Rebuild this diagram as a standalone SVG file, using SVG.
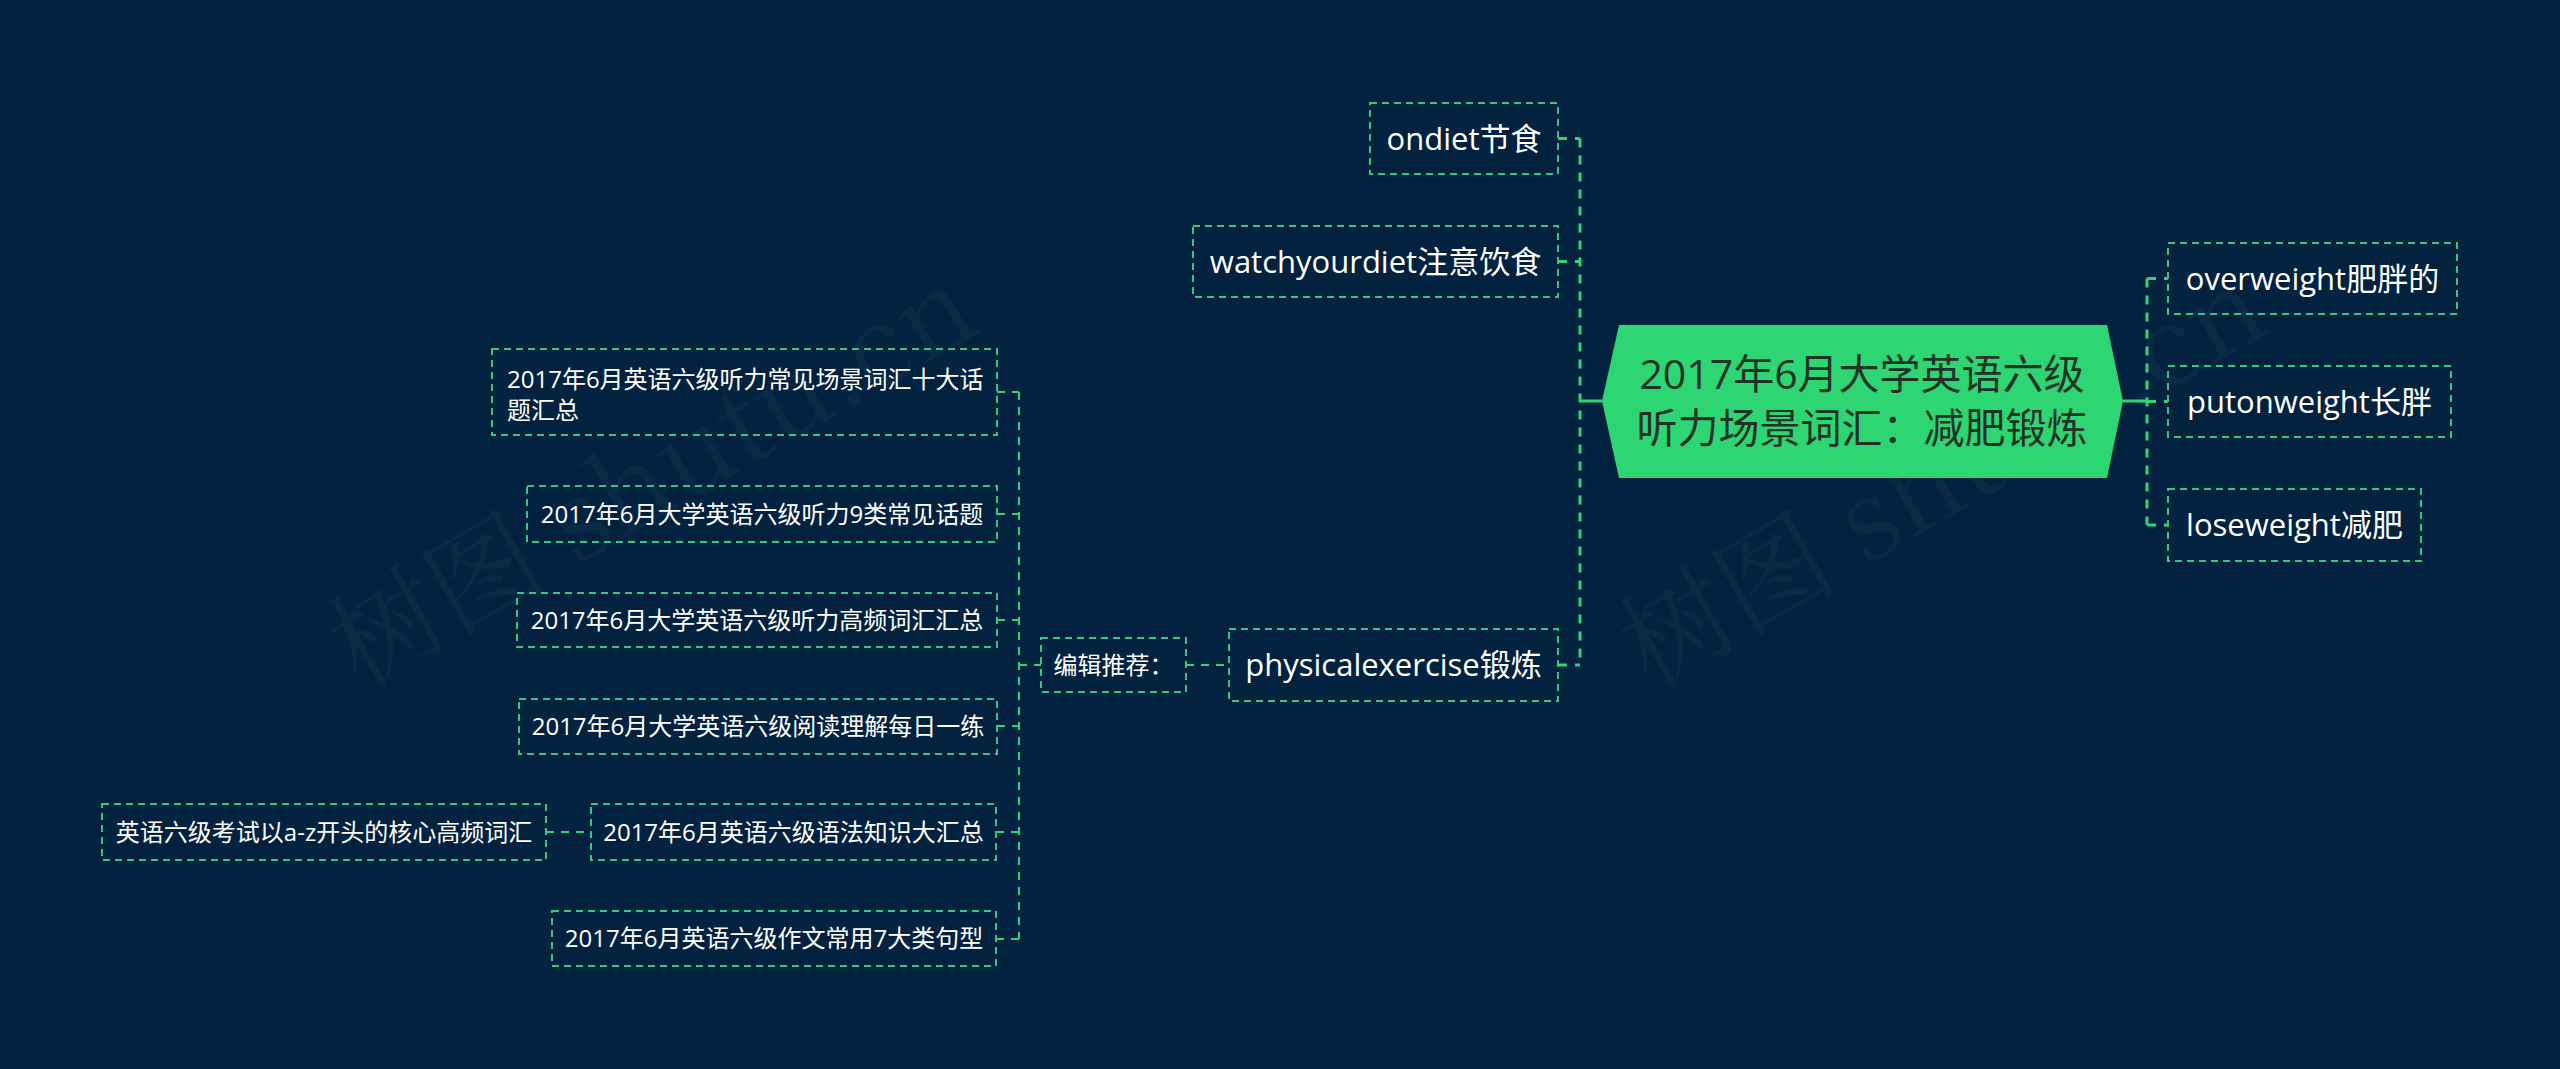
<svg xmlns="http://www.w3.org/2000/svg" width="2560" height="1069" viewBox="0 0 2560 1069">
<style>
.bg{fill:#02223f}
.box{fill:none;stroke:#34c77e;stroke-width:2;stroke-dasharray:7 5}
.t{font-family:"Open Sans","Noto Sans CJK SC",sans-serif;fill:#ffffff}
.t31{font-size:31px;text-anchor:middle}
.t24{font-size:24px;text-anchor:middle}
.tl{font-size:24px}
.ct{font-family:"Open Sans","Noto Sans CJK SC",sans-serif;font-size:41px;fill:#1f3329;text-anchor:middle}
.c1{fill:none;stroke:#2ed573;stroke-width:3;stroke-dasharray:9 8}
.c2{fill:none;stroke:#2ed573;stroke-width:2;stroke-dasharray:8 7}
.solid{fill:none;stroke:#2ed573;stroke-width:3}
.wm{font-family:"Noto Serif CJK SC","Liberation Serif","Noto Sans CJK SC",serif;font-size:110px;fill:#ffffff;fill-opacity:0.035}
</style>
<rect class="bg" x="0" y="0" width="2560" height="1069"/>
<g id="watermark">
<text class="wm" transform="translate(360,690) rotate(-30)">树图 shutu.cn</text>
<text class="wm" transform="translate(1650,690) rotate(-30)">树图 shutu.cn</text>
</g>
<g id="connectors">
<path class="solid" d="M1580,401 H1602"/>
<path class="solid" d="M2123,401 H2147"/>
<path class="c1" d="M1580,138.5 V665"/>
<path class="c1" d="M1558,138.5 H1580 M1558,261.5 H1580 M1558,665 H1580"/>
<path class="c1" d="M2147,278.5 V525"/>
<path class="c1" d="M2147,278.5 H2168 M2147,401.5 H2168 M2147,525 H2168"/>
<path class="c2" d="M1186,665 H1229"/>
<path class="c2" d="M1019,392 V939"/>
<path class="c2" d="M997,392 H1019 M997,514 H1019 M997,620 H1019 M997,726 H1019 M996,832 H1019 M996,939 H1019 M1019,665 H1041"/>
<path class="c2" d="M546,832 H591"/>
</g>
<g id="center">
<polygon points="1602,401 1619,325 2107,325 2123,401 2107,478 1619,478" fill="#2ed573"/>
<text class="ct" x="1862" y="389">2017年6月大学英语六级</text>
<text class="ct" x="1862" y="443">听力场景词汇：减肥锻炼</text>
</g>
<g id="n-ondiet">
<rect class="box" x="1370" y="103" width="188" height="71"/>
<text class="t t31" x="1464" y="149.5">ondiet节食</text>
</g>
<g id="n-watch">
<rect class="box" x="1193" y="226" width="365" height="71"/>
<text class="t t31" x="1375.5" y="272.5">watchyourdiet注意饮食</text>
</g>
<g id="n-physical">
<rect class="box" x="1229" y="629" width="329" height="72"/>
<text class="t t31" x="1393.5" y="676">physicalexercise锻炼</text>
</g>
<g id="n-over">
<rect class="box" x="2168" y="243" width="289" height="71"/>
<text class="t t31" x="2312.5" y="289.5">overweight肥胖的</text>
</g>
<g id="n-puton">
<rect class="box" x="2168" y="366" width="283" height="71"/>
<text class="t t31" x="2309.5" y="412.5">putonweight长胖</text>
</g>
<g id="n-lose">
<rect class="box" x="2168" y="489" width="253" height="72"/>
<text class="t t31" x="2294.5" y="536">loseweight减肥</text>
</g>
<g id="n-edit">
<rect class="box" x="1041" y="638" width="145" height="54"/>
<text class="t t24" x="1113.5" y="673.5">编辑推荐：</text>
</g>
<g id="n-c1">
<rect class="box" x="492" y="349" width="505" height="86"/>
<text class="t tl" x="507" y="388">2017年6月英语六级听力常见场景词汇十大话</text>
<text class="t tl" x="507" y="419">题汇总</text>
</g>
<g id="n-c2">
<rect class="box" x="527" y="486" width="470" height="56"/>
<text class="t t24" x="762" y="522.5">2017年6月大学英语六级听力9类常见话题</text>
</g>
<g id="n-c3">
<rect class="box" x="517" y="593" width="480" height="54"/>
<text class="t t24" x="757" y="628.5">2017年6月大学英语六级听力高频词汇汇总</text>
</g>
<g id="n-c4">
<rect class="box" x="519" y="699" width="478" height="55"/>
<text class="t t24" x="758" y="735">2017年6月大学英语六级阅读理解每日一练</text>
</g>
<g id="n-c5">
<rect class="box" x="591" y="804" width="405" height="56"/>
<text class="t t24" x="793.5" y="840.5">2017年6月英语六级语法知识大汇总</text>
</g>
<g id="n-c6">
<rect class="box" x="552" y="911" width="444" height="55"/>
<text class="t t24" x="774" y="947">2017年6月英语六级作文常用7大类句型</text>
</g>
<g id="n-c7">
<rect class="box" x="102" y="804" width="444" height="56"/>
<text class="t t24" x="324" y="840.5">英语六级考试以a-z开头的核心高频词汇</text>
</g>
</svg>
